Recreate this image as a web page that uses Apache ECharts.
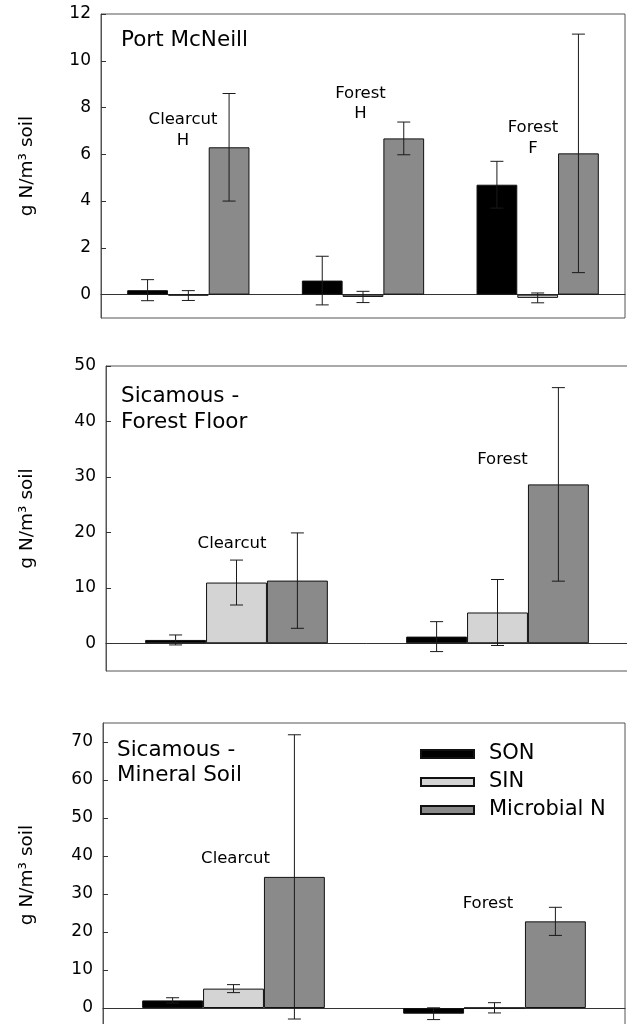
<!DOCTYPE html>
<html>
<head>
<meta charset="utf-8">
<script src="https://cdn.jsdelivr.net/npm/echarts@6/dist/echarts.min.js"></script>
<style>html,body{margin:0;padding:0;background:#fff}#c{width:627px;height:1024px}</style>
</head>
<body>
<div id="c"></div>
<script>
// ---------- DATA ----------
const seriesNames = ['SON', 'SIN', 'Microbial N'];

// Panel 1: Port McNeill
const pmCategories = ['Clearcut H', 'Forest H', 'Forest F'];
const pmSON = [0.19, 0.6, 4.7];
const pmSONerr = [0.45, 1.04, 1.0];
const pmSIN = [-0.04, -0.1, -0.14];
const pmSINerr = [0.21, 0.24, 0.21];
const pmMicro = [6.3, 6.68, 6.04];
const pmMicroErr = [2.3, 0.7, 5.1];
const pmTicks = [0, 2, 4, 6, 8, 10, 12];

// Panel 2: Sicamous - Forest Floor
const ffCategories = ['Clearcut', 'Forest'];
const ffSON = [0.6, 1.2];
const ffSONerr = [0.9, 2.7];
const ffSIN = [10.95, 5.55];
const ffSINerr = [4.05, 5.95];
const ffMicro = [11.3, 28.65];
const ffMicroErr = [8.6, 17.45];
const ffTicks = [0, 10, 20, 30, 40, 50];

// Panel 3: Sicamous - Mineral Soil
const msCategories = ['Clearcut', 'Forest'];
const msSON = [2.0, -1.5];
const msSONerr = [0.7, 1.55];
const msSIN = [5.1, 0.05];
const msSINerr = [1.05, 1.35];
const msMicro = [34.5, 22.8];
const msMicroErr = [37.4, 3.7];
const msTicks = [0, 10, 20, 30, 40, 50, 60, 70];

const panelTitles = ['Port McNeill', 'Sicamous -\nForest Floor', 'Sicamous -\nMineral Soil'];
const yAxisTitle = 'g N/m³ soil';

// ---------- STYLE ----------
const FONT = 'DejaVu Sans';
const colors = ['#000000', '#d4d4d4', '#8a8a8a'];
const GAP = 0.30;

const panels = [
  { cats: pmCategories, vals: [pmSON, pmSIN, pmMicro], errs: [pmSONerr, pmSINerr, pmMicroErr], ticks: pmTicks,
    min: -1, max: 12, grid: { left: 101, top: 14, right: 2, height: 304 }, nameGap: 64 },
  { cats: ffCategories, vals: [ffSON, ffSIN, ffMicro], errs: [ffSONerr, ffSINerr, ffMicroErr], ticks: ffTicks,
    min: -5, max: 50, grid: { left: 106, top: 366, right: -1, height: 305 }, nameGap: 69 },
  { cats: msCategories, vals: [msSON, msSIN, msMicro], errs: [msSONerr, msSINerr, msMicroErr], ticks: msTicks,
    min: -5, max: 75, grid: { left: 103, top: 723, right: 2, height: 304 }, nameGap: 66 }
];

function errRender(k) {
  return function (params, api) {
    const x = api.value(0);
    const lo = api.coord([x, api.value(1)]);
    const hi = api.coord([x, api.value(2)]);
    const band = api.size([1, 0])[0];
    const bw = band * (1 - GAP) / 3;
    const cx = lo[0] + (k - 1) * bw;
    const h = 6.5;
    const style = { stroke: '#1a1a1a', lineWidth: 1, fill: null };
    return {
      type: 'group',
      children: [
        { type: 'line', shape: { x1: cx, y1: lo[1], x2: cx, y2: hi[1] }, style: style },
        { type: 'line', shape: { x1: cx - h, y1: lo[1], x2: cx + h, y2: lo[1] }, style: style },
        { type: 'line', shape: { x1: cx - h, y1: hi[1], x2: cx + h, y2: hi[1] }, style: style }
      ]
    };
  };
}

const grids = [], xAxes = [], yAxes = [], series = [];
panels.forEach((p, i) => {
  grids.push(Object.assign({ show: true, borderColor: '#555', borderWidth: 1, backgroundColor: 'transparent',
    containLabel: false, outerBoundsMode: 'none' }, p.grid));
  xAxes.push({
    type: 'category', gridIndex: i, data: p.cats,
    axisLine: { show: true, onZero: true, lineStyle: { color: '#333', width: 1 } },
    axisTick: { show: false }, axisLabel: { show: false }, splitLine: { show: false }
  });
  yAxes.push({
    type: 'value', gridIndex: i, min: p.min, max: p.max,
    name: yAxisTitle, nameLocation: 'middle', nameGap: p.nameGap,
    nameTextStyle: { fontFamily: FONT, fontSize: 18.5, color: '#000' },
    axisLine: { show: true, lineStyle: { color: '#555', width: 1 } },
    axisTick: { show: true, inside: true, length: 5, customValues: p.ticks, lineStyle: { color: '#333' } },
    axisLabel: { customValues: p.ticks, margin: 10, fontFamily: FONT, fontSize: 17, color: '#000' },
    splitLine: { show: false }
  });
  seriesNames.forEach((name, k) => {
    series.push({
      name: name, type: 'bar', xAxisIndex: i, yAxisIndex: i,
      data: p.vals[k], barGap: '0%', barCategoryGap: (GAP * 100) + '%',
      itemStyle: { color: colors[k], borderColor: '#111', borderWidth: 1 },
      emphasis: { disabled: true }, z: 2
    });
  });
  seriesNames.forEach((name, k) => {
    series.push({
      name: name, type: 'custom', xAxisIndex: i, yAxisIndex: i,
      data: p.vals[k].map((v, j) => [j, v - p.errs[k][j], v + p.errs[k][j]]),
      renderItem: errRender(k), z: 5, silent: true
    });
  });
});

const txt = (text, x, y, size, align, lh) => ({
  type: 'text', x: x, y: y, z: 100, silent: true,
  style: { text: text, fontFamily: FONT, fontSize: size, fill: '#000', align: align, verticalAlign: 'middle', lineHeight: lh }
});

const annotations = [
  ['Clearcut\nH', 183, 130, 21], ['Forest\nH', 360.5, 103.7, 20], ['Forest\nF', 533, 138, 21],
  ['Clearcut', 232, 544, 20], ['Forest', 502.5, 459.7, 20],
  ['Clearcut', 235.5, 858.7, 20], ['Forest', 488, 904.2, 20]
];

const graphics = [
  txt(panelTitles[0], 121, 40.5, 21.5, 'left', 26),
  txt(panelTitles[1], 121, 409, 21.5, 'left', 26),
  txt(panelTitles[2], 117, 762.5, 21.5, 'left', 25)
].concat(annotations.map(a => txt(a[0], a[1], a[2], 16.5, 'center', a[3])));

const option = {
  animation: false,
  backgroundColor: '#fff',
  grid: grids, xAxis: xAxes, yAxis: yAxes, series: series,
  legend: {
    data: seriesNames, orient: 'vertical', left: 420, top: 743, padding: 0,
    itemWidth: 53, itemHeight: 8, itemGap: 6, icon: 'rect',
    textStyle: { fontFamily: FONT, fontSize: 21, color: '#000', lineHeight: 22, padding: [0, 0, 0, 10] }
  },
  graphic: graphics
};

const chart = echarts.init(document.getElementById('c'), null, { renderer: 'canvas' });
chart.setOption(option);
</script>
</body>
</html>
